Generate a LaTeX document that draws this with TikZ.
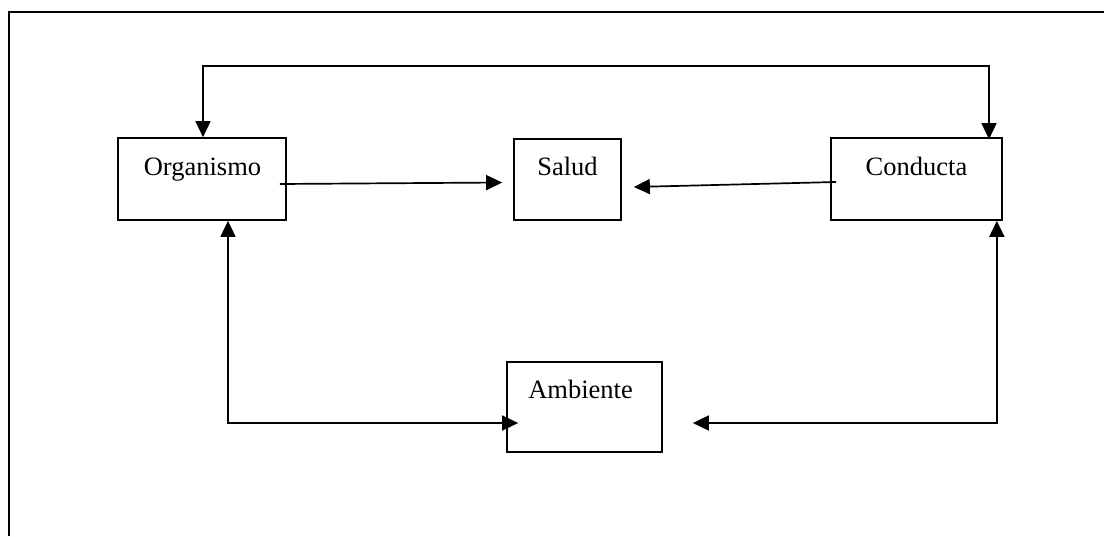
\documentclass[tikz,border=0pt]{standalone}
\usepackage{fontspec}
\setmainfont{Liberation Serif}
\usetikzlibrary{arrows.meta}
\begin{document}
\begin{tikzpicture}[x=1pt,y=-1pt,
  box/.style={draw,line width=1.7pt,minimum width=#1,inner sep=0pt},
  lbl/.style={anchor=base,inner sep=0pt,font=\fontsize{26.5pt}{30pt}\selectfont},
  tip/.style={Triangle[length=16pt,width=15pt]},
  conn/.style={line width=1.7pt,-{Triangle[length=16pt,width=15pt]}},
  bothconn/.style={line width=1.7pt,{Triangle[length=16pt,width=15pt]}-{Triangle[length=16pt,width=15pt]}}]
\useasboundingbox (0,0) rectangle (1104,536);
% outer frame
\draw[line width=2.4pt] (9,536) -- (9,12) -- (1104,12);
% boxes
\node[box=168pt,minimum height=82pt] (org) at (202,179) {};
\node[box=107pt,minimum height=81pt] (sal) at (567.5,179.5) {};
\node[box=171pt,minimum height=82pt] (con) at (916.5,179) {};
\node[box=155pt,minimum height=90pt] (amb) at (584.5,407) {};
% labels
\node[lbl] (torg) at (202.5,175) {Organismo};
\node[lbl] (tsal) at (567.5,175) {Salud};
\node[lbl] (tcon) at (916.5,175) {Conducta};
\node[lbl] (tamb) at (580.5,398) {Ambiente};
% connectors
\draw[conn] ([xshift=-7pt,yshift=-5pt]org.east) -- ([xshift=-11pt,yshift=-3pt]sal.west);
\draw[conn] ([xshift=6pt,yshift=-3pt]con.west) -- ([xshift=12pt,yshift=-7.5pt]sal.east);
\draw[bothconn] ([xshift=1pt]org.north) |- (596,66) -| ([xshift=72.5pt,yshift=-2pt]con.north);
\draw[bothconn] ([xshift=26pt]org.south) |- ([xshift=12pt,yshift=-16pt]amb.west);
\draw[bothconn] ([xshift=-6pt]con.south east) |- ([xshift=30pt,yshift=-16pt]amb.east);
\end{tikzpicture}
\end{document}
